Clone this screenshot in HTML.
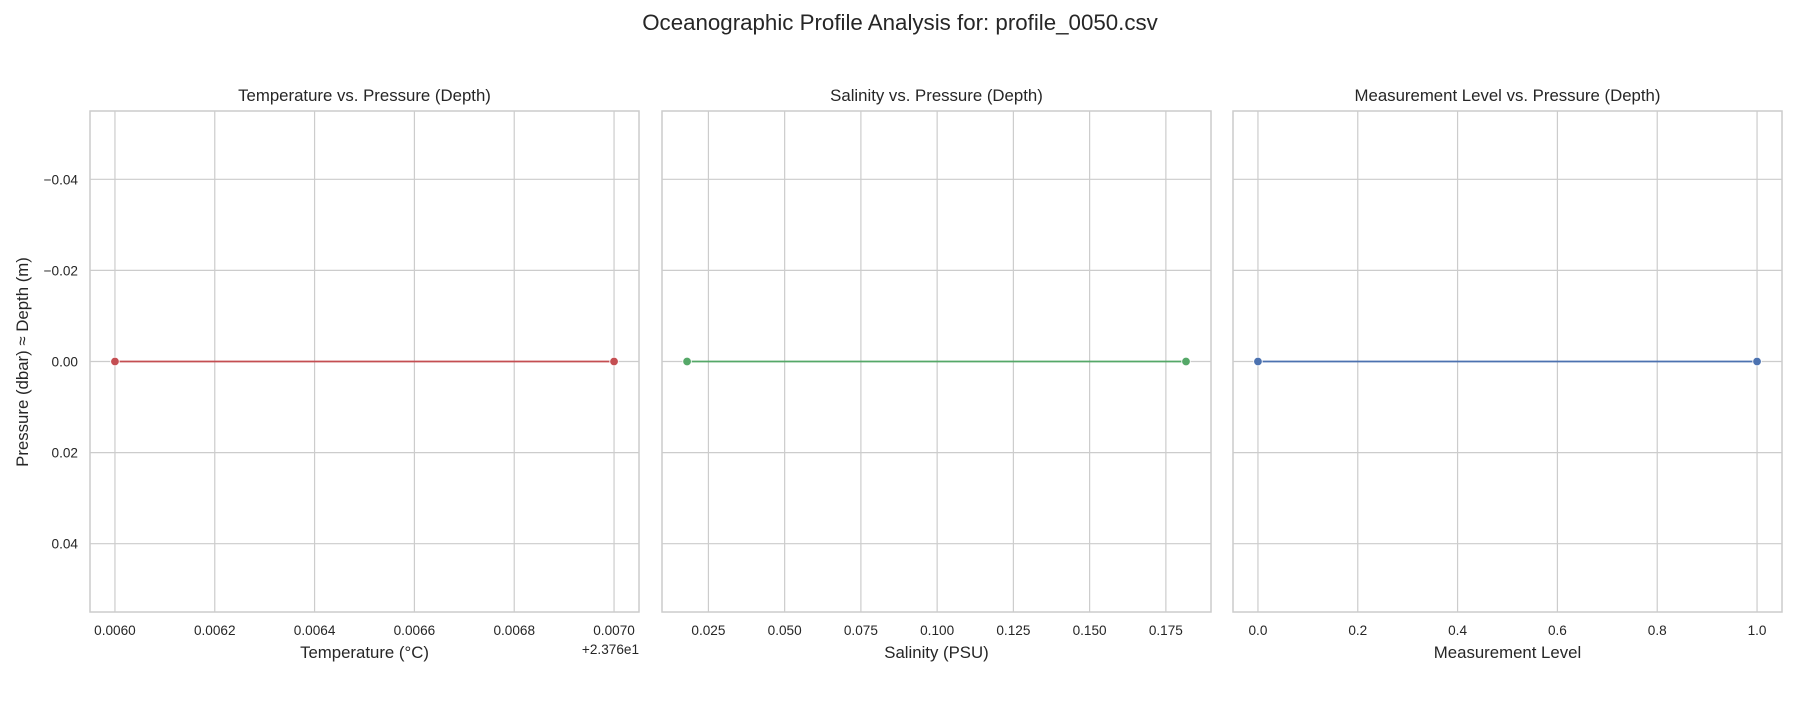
<!DOCTYPE html>
<html><head><meta charset="utf-8"><style>
body{margin:0;background:#fff;font-family:"Liberation Sans",sans-serif}
</style></head><body>
<svg id="c" width="1800" height="700" xmlns="http://www.w3.org/2000/svg" font-family="Liberation Sans, sans-serif">
<text x="900" y="30" text-anchor="middle" font-size="22.3" fill="#262626">Oceanographic Profile Analysis for: profile_0050.csv</text>
</svg>
<script>
const pressure=[0,0];
const temperature=[0.006,0.007];
const salinity=[0.018,0.1816];
const level=[0,1];
const yTicks=[-0.04,-0.02,0,0.02,0.04];
const tempTicks=[0.006,0.0062,0.0064,0.0066,0.0068,0.007];
const salTicks=[0.025,0.05,0.075,0.1,0.125,0.15,0.175];
const levelTicks=[0,0.2,0.4,0.6,0.8,1.0];
const NS='http://www.w3.org/2000/svg';
const svg=document.getElementById('c');
const top_=111,bot=612,yMin=-0.055,yMax=0.055;
function ys(v){return top_+(v-yMin)/(yMax-yMin)*(bot-top_);}
function mk(t,a,p){const e=document.createElementNS(NS,t);for(const k in a)e.setAttribute(k,a[k]);(p||svg).appendChild(e);return e;}
const panels=[
 {x0:90,x1:639,d:[0.00595,0.00705],xs:temperature,ticks:tempTicks,fmt:v=>v.toFixed(4),title:'Temperature vs. Pressure (Depth)',xl:'Temperature (°C)',col:'#c44e52',name:'temperature',offset:'+2.376e1'},
 {x0:662,x1:1211,d:[0.00978,0.1898],xs:salinity,ticks:salTicks,fmt:v=>v.toFixed(3),title:'Salinity vs. Pressure (Depth)',xl:'Salinity (PSU)',col:'#55a868',name:'salinity'},
 {x0:1233,x1:1782,d:[-0.05,1.05],xs:level,ticks:levelTicks,fmt:v=>v.toFixed(1),title:'Measurement Level vs. Pressure (Depth)',xl:'Measurement Level',col:'#4c72b0',name:'level'}
];
panels.forEach((p,i)=>{
 const xs=v=>p.x0+(v-p.d[0])/(p.d[1]-p.d[0])*(p.x1-p.x0);
 const g=mk('g',{});
 
 
 p.ticks.forEach(t=>{
  const x=xs(t);
  const l=mk('line',{x1:x,x2:x,y1:top_,y2:bot,stroke:'#cccccc','stroke-width':1.2},g);
  
  
  const tx=mk('text',{x:x,y:bot+23,'text-anchor':'middle','font-size':13.6,fill:'#262626'},g);
  tx.textContent=p.fmt(t);
  
  
 });
 yTicks.forEach(t=>{
  const y=ys(t);
  const l=mk('line',{x1:p.x0,x2:p.x1,y1:y,y2:y,stroke:'#cccccc','stroke-width':1.2},g);
  
  
  if(i===0){
   const tx=mk('text',{x:p.x0-12,y:y+5,'text-anchor':'end','font-size':13.6,fill:'#262626'},g);
   tx.textContent=(t<0?'\u2212':'')+Math.abs(t).toFixed(2);
   
   
  }
 });
 const r=mk('rect',{x:p.x0,y:top_,width:p.x1-p.x0,height:bot-top_,fill:'none',stroke:'#cccccc','stroke-width':1.5},g);
 
 
 const tt=mk('text',{x:(p.x0+p.x1)/2,y:top_-10,'text-anchor':'middle','font-size':16.8,fill:'#262626'},g);
 tt.textContent=p.title;
 
 
 const xl=mk('text',{x:(p.x0+p.x1)/2,y:bot+46,'text-anchor':'middle','font-size':16.8,fill:'#262626'},g);
 xl.textContent=p.xl;
 
 
 if(p.offset){
  const o=mk('text',{x:p.x1,y:bot+42,'text-anchor':'end','font-size':13.6,fill:'#262626'},g);
  o.textContent=p.offset;
  
  
 }
 const pts=p.xs.map((v,k)=>xs(v)+','+ys(pressure[k])).join(' ');
 const pl=mk('polyline',{points:pts,fill:'none',stroke:p.col,'stroke-width':1.7},g);
 
 
 p.xs.forEach((v,k)=>{
  const c=mk('circle',{cx:xs(v),cy:ys(pressure[k]),r:4.3,fill:p.col,stroke:'#fff','stroke-width':0.8},g);
  
  
 });
});
const yl=mk('text',{x:0,y:0,'text-anchor':'middle','font-size':16.8,fill:'#262626',transform:'translate(28,362) rotate(-90)'});
yl.textContent='Pressure (dbar) \u2248 Depth (m)';


</script>
</body></html>
